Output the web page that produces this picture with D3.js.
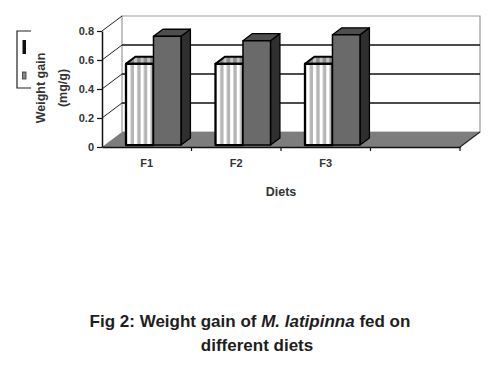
<!DOCTYPE html>
<html><head><meta charset="utf-8">
<script src="https://cdn.jsdelivr.net/npm/d3@7"></script>
<style>body{margin:0;background:#fff}svg{display:block}text{font-family:"Liberation Sans",Arial,sans-serif}</style>
</head><body><svg id="c" width="493" height="367"></svg>
<script>
const categories = ["F1","F2","F3",""];
const seriesStriped = [0.56,0.56,0.56,null];
const seriesDark = [0.75,0.72,0.76,null];
const yTicks = [0,0.2,0.4,0.6,0.8];
const yTitle = ["Weight gain","(mg/g)"];
const xTitle = "Diets";
const captionLine1 = ["Fig 2: Weight gain of ", "M. latipinna", " fed on"];
const captionLine2 = "different diets";

const svg = d3.select("#c");
const X0=102, Y0=147, XR=460, DX=20, DY=-15, H=116;
const x = d3.scaleBand().domain(categories).range([X0,XR]);
const y = d3.scaleLinear().domain([0,0.8]).range([Y0, Y0-H]);
const proj = (px, v, d) => [px + d*DX, y(v) + d*DY];
const poly = pts => "M" + pts.map(p => p.join(",")).join("L") + "Z";
const bw = x.bandwidth();

// back wall
svg.append("path").attr("d", poly([proj(X0,0.8,1),proj(XR,0.8,1),proj(XR,0,1),proj(X0,0,1)]))
  .attr("fill","#fff").attr("stroke","#9a9a9a").attr("stroke-width",1.2);
// gridlines on back wall
svg.selectAll(".grid").data(yTicks.filter(v=>v>0 && v<0.8)).join("line")
  .attr("x1",v=>proj(X0,v,1)[0]).attr("y1",v=>proj(X0,v,1)[1])
  .attr("x2",v=>proj(XR,v,1)[0]).attr("y2",v=>proj(XR,v,1)[1])
  .attr("stroke","#111").attr("stroke-width",1.5);
// left diagonal tick lines
svg.selectAll(".diag").data(yTicks.filter(v=>v>0)).join("line")
  .attr("x1",v=>proj(X0,v,0)[0]).attr("y1",v=>proj(X0,v,0)[1])
  .attr("x2",v=>proj(X0,v,1)[0]).attr("y2",v=>proj(X0,v,1)[1])
  .attr("stroke","#222").attr("stroke-width",1);
// floor
svg.append("path").attr("d", poly([proj(X0,0,0),proj(X0,0,1),proj(XR,0,1),proj(XR,0,0)]))
  .attr("fill","#7d7d7d");
svg.append("line").attr("x1",proj(XR,0,0)[0]).attr("y1",proj(XR,0,0)[1])
  .attr("x2",proj(XR,0,1)[0]).attr("y2",proj(XR,0,1)[1]).attr("stroke","#222").attr("stroke-width",1.2);

// bars
const inner = d3.scaleBand().domain([0,1]).range([0,bw]).paddingInner(0).paddingOuter(0.625).align(0.62);
const D1=0.13, D2=0.6;
const defs = svg.append("defs");
const g = svg.append("g");
categories.forEach((c,i)=>{
  const vals=[seriesStriped[i], seriesDark[i]];
  vals.forEach((v,s)=>{
    if(v==null) return;
    const xl = x(c)+inner(s), w = inner.bandwidth();
    const front=[proj(xl,0,D1),proj(xl+w,0,D1),proj(xl+w,v,D1),proj(xl,v,D1)];
    const top=[proj(xl,v,D1),proj(xl+w,v,D1),proj(xl+w,v,D2),proj(xl,v,D2)];
    const side=[proj(xl+w,0,D1),proj(xl+w,0,D2),proj(xl+w,v,D2),proj(xl+w,v,D1)];
    if(s===0){
      const id="st"+i;
      const p=defs.append("pattern").attr("id",id).attr("patternUnits","userSpaceOnUse")
        .attr("x",front[0][0]+1.5).attr("y",0).attr("width",6.6).attr("height",10);
      p.append("rect").attr("width",6.6).attr("height",10).attr("fill","#b5b5b5");
      p.append("rect").attr("x",0).attr("width",3.2).attr("height",10).attr("fill","#fff");
      const idt="stt"+i;
      const pt=defs.append("pattern").attr("id",idt).attr("patternUnits","userSpaceOnUse")
        .attr("x",front[0][0]+1.5).attr("y",0).attr("width",6.6).attr("height",10);
      pt.append("rect").attr("width",6.6).attr("height",10).attr("fill","#8e8e8e");
      pt.append("rect").attr("x",0).attr("width",3).attr("height",10).attr("fill","#c4c4c4");
      g.append("path").attr("d",poly(side)).attr("fill","#555").attr("stroke","#000").attr("stroke-width",1.5).attr("stroke-linejoin","round");
      g.append("path").attr("d",poly(top)).attr("fill",`url(#${idt})`).attr("stroke","#000").attr("stroke-width",2).attr("stroke-linejoin","round");
      g.append("path").attr("d",poly(front)).attr("fill",`url(#${id})`).attr("stroke","#000").attr("stroke-width",2.2).attr("stroke-linejoin","round");
    } else {
      g.append("path").attr("d",poly(side)).attr("fill","#2f2f2f").attr("stroke","#000").attr("stroke-width",1.3).attr("stroke-linejoin","round");
      g.append("path").attr("d",poly(top)).attr("fill","#4e4e4e").attr("stroke","#000").attr("stroke-width",1.3).attr("stroke-linejoin","round");
      g.append("path").attr("d",poly(front)).attr("fill","#6a6a6a").attr("stroke","#000").attr("stroke-width",1.5).attr("stroke-linejoin","round");
    }
  });
});

// y axis
const ya = svg.append("g").attr("transform",`translate(${X0},0)`)
  .call(d3.axisLeft(y).tickValues(yTicks).tickSize(5).tickSizeOuter(0).tickPadding(3)
    .tickFormat(d=>d===0?"0":d3.format(".1f")(d)));
ya.select(".domain").attr("stroke","#111").attr("stroke-width",1.5);
ya.selectAll(".tick line").attr("stroke","#111").attr("stroke-width",1.2);
ya.selectAll("text").attr("font-size",11).attr("font-weight","bold").attr("fill","#333")
  .attr("font-family","'Liberation Sans',Arial,sans-serif");

// x axis
const xa = svg.append("g").attr("transform",`translate(0,${Y0})`)
  .call(d3.axisBottom(x).tickSize(0).tickPadding(12).tickSizeOuter(0));
xa.select(".domain").attr("stroke","#111").attr("stroke-width",1.5);
xa.selectAll("text").attr("font-size",11).attr("font-weight","bold").attr("fill","#333")
  .attr("font-family","'Liberation Sans',Arial,sans-serif");
svg.selectAll(".bt").data(categories).join("line")
  .attr("x1",c=>x(c)+bw).attr("x2",c=>x(c)+bw).attr("y1",Y0).attr("y2",Y0+4)
  .attr("stroke","#111").attr("stroke-width",1.2);

// axis titles
svg.append("text").attr("x",281).attr("y",196).attr("text-anchor","middle")
  .attr("font-size",12.5).attr("font-weight","bold").attr("fill","#333").text(xTitle);
yTitle.forEach((t,i)=>{
  svg.append("text").attr("transform",`translate(${45+i*22},88) rotate(-90)`).attr("text-anchor","middle")
    .attr("font-size",12.5).attr("font-weight","bold").attr("fill","#333").text(t);
});

// legend (cropped)
svg.append("path").attr("d","M31,31H17V88H31").attr("fill","none").attr("stroke","#222").attr("stroke-width",1.2);
svg.append("rect").attr("x",22.5).attr("y",40).attr("width",3.5).attr("height",14).attr("fill","#111");
svg.append("rect").attr("x",22.5).attr("y",72).attr("width",3.5).attr("height",7).attr("fill","#888").attr("stroke","#333").attr("stroke-width",0.8);

// caption
const cap = svg.append("text").attr("x",250).attr("y",327).attr("text-anchor","middle")
  .attr("font-size",17).attr("font-weight","bold").attr("fill","#1e1e1e");
captionLine1.forEach((t,i)=>cap.append("tspan").attr("font-style",i===1?"italic":"normal").text(t));
svg.append("text").attr("x",257).attr("y",351).attr("text-anchor","middle")
  .attr("font-size",17).attr("font-weight","bold").attr("fill","#1e1e1e").text(captionLine2);
</script></body></html>
